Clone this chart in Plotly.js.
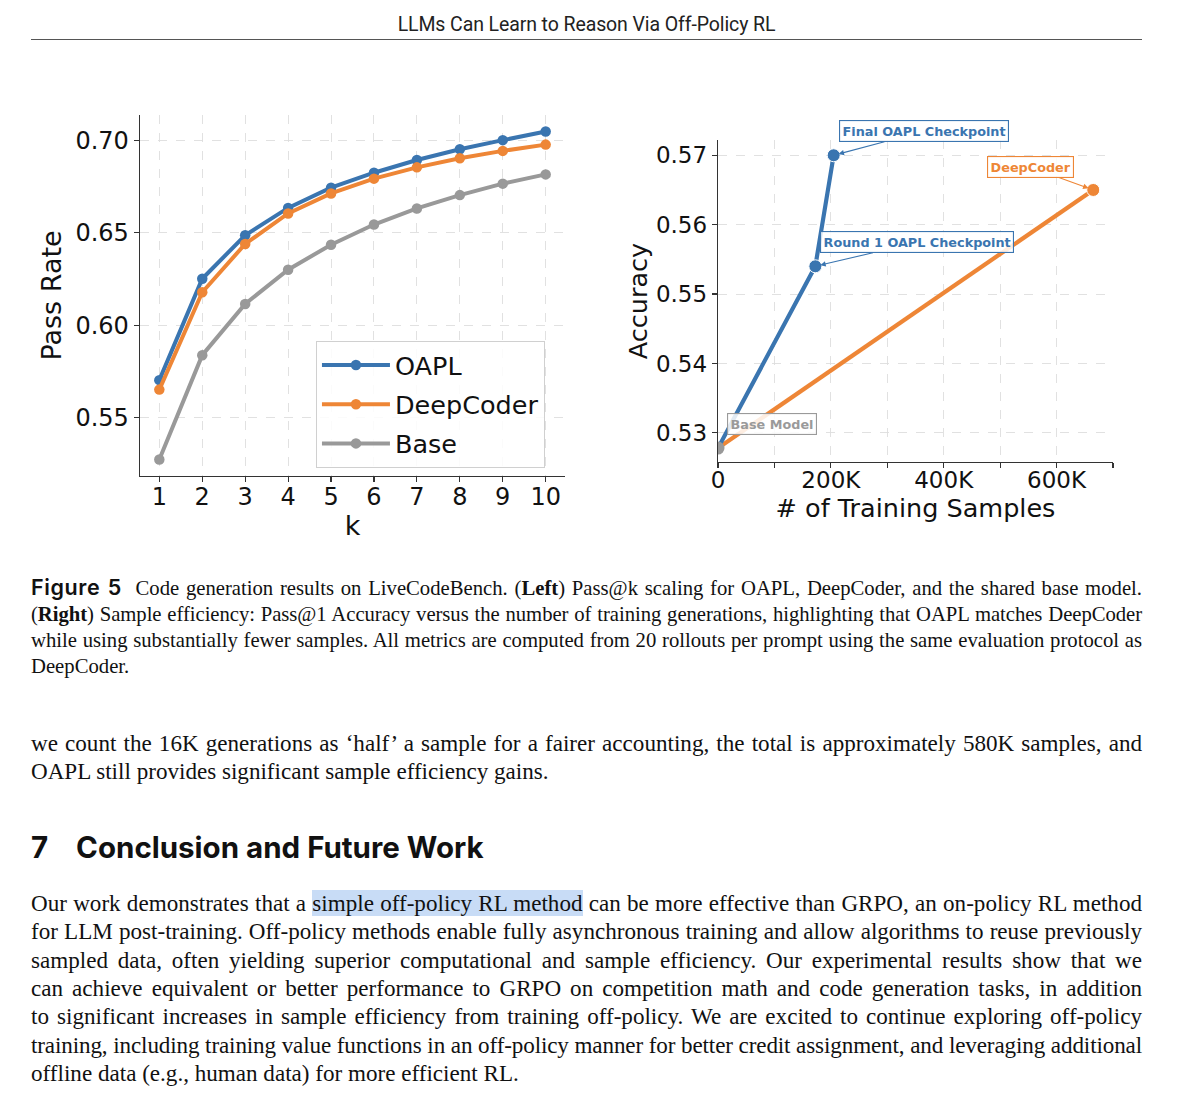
<!DOCTYPE html>
<html>
<head>
<meta charset="utf-8">
<script src="https://cdn.plot.ly/plotly-3.0.1.min.js"></script>
<style>
  html, body { margin:0; padding:0; background:#fff; width:1200px; height:1110px; overflow:hidden; }
  .abs { position:absolute; }
  #header { left:31px; width:1111px; top:13px; text-align:center; font-family:Roboto, "Noto Sans", sans-serif; font-size:19.5px; color:#222; letter-spacing:-0.1px; }
  #rule { left:31px; width:1111px; top:39px; height:0; border-top:1.5px solid #555; }
  .serif { font-family:"Liberation Serif", "Times New Roman", serif; color:#111; }
  .jl { text-align:justify; text-align-last:justify; white-space:nowrap; }
  .ll { text-align:left; white-space:nowrap; }
  #caption { left:31px; width:1111px; top:574px; font-size:20.7px; line-height:26px; }
  #para1 { left:31px; width:1111px; top:729px; font-size:23.1px; line-height:28px; }
  #heading { left:31px; top:828px; font-family:Inter, "Noto Sans", sans-serif; font-weight:700; font-size:29.5px; line-height:38px; color:#111; letter-spacing:0px; }
  #para2 { left:31px; width:1111px; top:889px; font-size:23.1px; line-height:28.33px; }
  .figlab { font-family:Inter, "Noto Sans", sans-serif; font-weight:600; font-size:21.5px; letter-spacing:0.6px; }
  .hl { background:#c8dcf6; }
  #plot { left:0; top:60px; width:1200px; height:500px; }
</style>
</head>
<body>
<div id="plot" class="abs"></div>
<div id="header" class="abs">LLMs Can Learn to Reason Via Off-Policy RL</div>
<div id="rule" class="abs"></div>

<div id="caption" class="abs serif">
  <div class="jl"><span class="figlab">Figure 5</span>&nbsp; Code generation results on LiveCodeBench. (<b>Left</b>) Pass@k scaling for OAPL, DeepCoder, and the shared base model.</div>
  <div class="jl" style="letter-spacing:-0.05px">(<b>Right</b>) Sample efficiency: Pass@1 Accuracy versus the number of training generations, highlighting that OAPL matches DeepCoder</div>
  <div class="jl">while using substantially fewer samples. All metrics are computed from 20 rollouts per prompt using the same evaluation protocol as</div>
  <div class="ll">DeepCoder.</div>
</div>

<div id="para1" class="abs serif">
  <div class="jl">we count the 16K generations as ‘half’ a sample for a fairer accounting, the total is approximately 580K samples, and</div>
  <div class="ll">OAPL still provides significant sample efficiency gains.</div>
</div>

<div id="heading" class="abs">7&nbsp;&nbsp;&nbsp;&nbsp;Conclusion and Future Work</div>

<div id="para2" class="abs serif">
  <div class="jl">Our work demonstrates that a <span class="hl">simple off-policy RL method</span> can be more effective than GRPO, an on-policy RL method</div>
  <div class="jl">for LLM post-training. Off-policy methods enable fully asynchronous training and allow algorithms to reuse previously</div>
  <div class="jl">sampled data, often yielding superior computational and sample efficiency. Our experimental results show that we</div>
  <div class="jl">can achieve equivalent or better performance to GRPO on competition math and code generation tasks, in addition</div>
  <div class="jl">to significant increases in sample efficiency from training off-policy. We are excited to continue exploring off-policy</div>
  <div class="jl" style="letter-spacing:-0.12px; word-spacing:-0.6px">training, including training value functions in an off-policy manner for better credit assignment, and leveraging additional</div>
  <div class="ll">offline data (e.g., human data) for more efficient RL.</div>
</div>

<script>
// ---------- Left panel: Pass@k ----------
const k = [1, 2, 3, 4, 5, 6, 7, 8, 9, 10];
const oaplPass = [0.5703, 0.6251, 0.6486, 0.6634, 0.6743, 0.6824, 0.6893, 0.6951, 0.7000, 0.7047];
const deepcoderPass = [0.5652, 0.6178, 0.6439, 0.6604, 0.6712, 0.6792, 0.6853, 0.6902, 0.6942, 0.6976];
const basePass = [0.5274, 0.5838, 0.6115, 0.6300, 0.6435, 0.6544, 0.6631, 0.6703, 0.6765, 0.6815];
const passTicks = [0.55, 0.60, 0.65, 0.70];
const passTickText = ['0.55', '0.60', '0.65', '0.70'];

// ---------- Right panel: sample efficiency ----------
const oaplSamples = [0, 172500, 205000];
const oaplAcc = [0.5278, 0.5540, 0.5700];
const deepSamples = [0, 665000];
const deepAcc = [0.5278, 0.5650];
const baseSamples = [0];
const baseAcc = [0.5278];
const sampleTicks = [0, 100000, 200000, 300000, 400000, 500000, 600000, 700000];
const sampleTickText = ['0', '', '200K', '', '400K', '', '600K', ''];
const accTicks = [0.53, 0.54, 0.55, 0.56, 0.57];
const accTickText = ['0.53', '0.54', '0.55', '0.56', '0.57'];

const BLUE = '#3a75b0', ORANGE = '#ee8636', GRAY = '#999999';
const FONT = 'DejaVu Sans, Verdana, sans-serif';

const traces = [
  {x: k, y: oaplPass, name: 'OAPL', type: 'scatter', mode: 'lines+markers', xaxis: 'x', yaxis: 'y',
   line: {color: BLUE, width: 4}, marker: {color: BLUE, size: 10.5, opacity: 1}, legendgroup: 'a'},
  {x: k, y: deepcoderPass, name: 'DeepCoder', type: 'scatter', mode: 'lines+markers', xaxis: 'x', yaxis: 'y',
   line: {color: ORANGE, width: 4}, marker: {color: ORANGE, size: 10.5, opacity: 1}, legendgroup: 'b'},
  {x: k, y: basePass, name: 'Base', type: 'scatter', mode: 'lines+markers', xaxis: 'x', yaxis: 'y',
   line: {color: GRAY, width: 4}, marker: {color: GRAY, size: 10.5, opacity: 1}, legendgroup: 'c'},
  {x: deepSamples, y: deepAcc, name: 'DeepCoder', type: 'scatter', mode: 'lines+markers', xaxis: 'x2', yaxis: 'y2',
   line: {color: ORANGE, width: 4.2}, marker: {color: ORANGE, size: [0, 13], opacity: 1}, showlegend: false},
  {x: oaplSamples, y: oaplAcc, name: 'OAPL', type: 'scatter', mode: 'lines+markers', xaxis: 'x2', yaxis: 'y2',
   line: {color: BLUE, width: 4.2}, marker: {color: BLUE, size: [0, 13, 13], opacity: 1}, showlegend: false},
  {x: baseSamples, y: baseAcc, name: 'Base Model', type: 'scatter', mode: 'markers', xaxis: 'x2', yaxis: 'y2',
   marker: {color: GRAY, size: 13, opacity: 1}, showlegend: false}
];

const gridCommon = {showgrid: true, gridcolor: '#dedede', gridwidth: 0.9, griddash: 'dash', zeroline: false,
  showline: true, linecolor: '#333', linewidth: 1.3, ticks: 'outside', ticklen: 5, tickwidth: 1.2, tickcolor: '#333',
  mirror: false, automargin: false};

function box(text, x, y, ax, ay, color, arrowColor) {
  return {text: '<b>' + text + '</b>', x: x, y: y, xref: 'x2', yref: 'y2', showarrow: true,
    ax: ax, ay: ay, axref: 'pixel', ayref: 'pixel', arrowhead: 2, arrowsize: 1, arrowwidth: 1.1,
    arrowcolor: arrowColor, standoff: 5,
    font: {family: FONT, size: 12.8, color: color}, bgcolor: 'rgba(255,255,255,0.85)',
    bordercolor: color, borderwidth: 1.1, borderpad: 2.5};
}

const layout = {
  width: 1200, height: 500,
  margin: {l: 0, r: 0, t: 0, b: 0},
  paper_bgcolor: 'rgba(0,0,0,0)', plot_bgcolor: 'rgba(0,0,0,0)',
  font: {family: FONT, color: '#111'},
  showlegend: true,
  legend: {x: 0.2633, y: 0.438, xanchor: 'left', yanchor: 'top', bgcolor: 'rgba(255,255,255,0.85)',
    bordercolor: '#d0d0d0', borderwidth: 1, font: {family: FONT, size: 25.5, color: '#111'}, tracegroupgap: 3,
    itemwidth: 68},
  xaxis: Object.assign({}, gridCommon, {domain: [0.11667, 0.47083], anchor: 'y', range: [0.55, 10.45],
    tickvals: k, ticktext: k.map(String), tickfont: {size: 24, color: '#111'}, ticklabelstandoff: -6,
    title: {text: 'k', font: {size: 27, color: '#111'}, standoff: 6}}),
  yaxis: Object.assign({}, gridCommon, {domain: [0.168, 0.89], anchor: 'x', range: [0.5185, 0.7136],
    tickvals: passTicks, ticktext: passTickText, tickfont: {size: 24, color: '#111'},
    title: {text: 'Pass Rate', font: {size: 27, color: '#111'}, standoff: 6}}),
  xaxis2: Object.assign({}, gridCommon, {domain: [0.59833, 0.9275], anchor: 'y2', range: [0, 700000],
    tickvals: sampleTicks, ticktext: sampleTickText, tickfont: {size: 23, color: '#111'}, ticklabelstandoff: -8,
    title: {text: '# of Training Samples', font: {size: 25.5, color: '#111'}, standoff: 3}}),
  yaxis2: Object.assign({}, gridCommon, {domain: [0.196, 0.84], anchor: 'x2', range: [0.5258, 0.5722],
    tickvals: accTicks, ticktext: accTickText, tickfont: {size: 23, color: '#111'},
    title: {text: 'Accuracy', font: {size: 25.5, color: '#111'}, standoff: 1}}),
  annotations: [
    box('Final OAPL Checkpoint', oaplSamples[2], oaplAcc[2], 90, -24, BLUE, BLUE),
    box('Round 1 OAPL Checkpoint', oaplSamples[1], oaplAcc[1], 102, -24, BLUE, BLUE),
    box('DeepCoder', deepSamples[1], deepAcc[1], -63, -23, ORANGE, ORANGE),
    box('Base Model', baseSamples[0], baseAcc[0], 54, -24, '#9a9a9a', 'rgba(0,0,0,0)')
  ]
};

Plotly.newPlot('plot', traces, layout, {staticPlot: true, displayModeBar: false});
</script>
</body>
</html>
